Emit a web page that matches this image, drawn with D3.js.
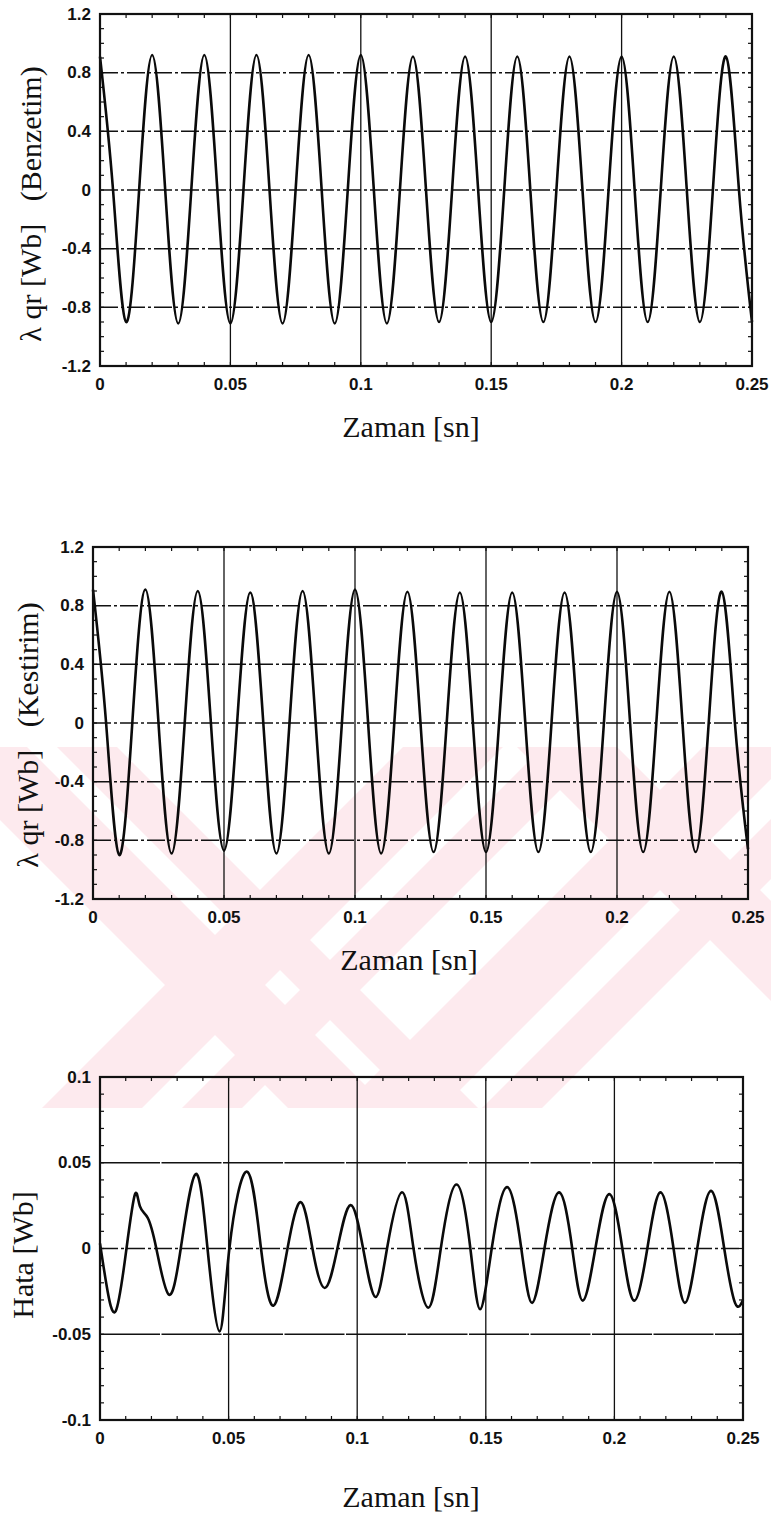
<!DOCTYPE html>
<html>
<head>
<meta charset="utf-8">
<script src="https://cdn.jsdelivr.net/npm/d3@7"></script>
<style>
  html, body { margin: 0; padding: 0; background: #fff; }
  svg { display: block; }
  .tick-label { font-family: "Liberation Sans", Arial, sans-serif; font-weight: bold; font-size: 17px; fill: #111; }
  .axis-title { font-family: "Liberation Serif", "Times New Roman", serif; font-size: 30px; fill: #111; white-space: pre; }
</style>
</head>
<body>
<svg id="fig" width="771" height="1522"></svg>
<script>
// Sample instants [s] of the rotor q-axis flux traces (peaks, zero crossings, troughs)
const fluxTimes = [
  0, 0.005, 0.01, 0.015, 0.02, 0.025, 0.03, 0.035, 0.04, 0.045,
  0.05, 0.055, 0.06, 0.065, 0.07, 0.075, 0.08, 0.085, 0.09, 0.095,
  0.1, 0.105, 0.11, 0.115, 0.12, 0.125, 0.13, 0.135, 0.14, 0.145,
  0.15, 0.155, 0.16, 0.165, 0.17, 0.175, 0.18, 0.185, 0.19, 0.195,
  0.2, 0.205, 0.21, 0.215, 0.22, 0.225, 0.23, 0.235, 0.24, 0.245, 0.25
];

// Simulated flux λqr [Wb] (Benzetim)
const benzetimFlux = [
  0.91, 0, -0.90, 0, 0.92, 0, -0.91, 0, 0.92, 0,
  -0.91, 0, 0.92, 0, -0.91, 0, 0.92, 0, -0.91, 0,
  0.92, 0, -0.91, 0, 0.91, 0, -0.90, 0, 0.91, 0,
  -0.90, 0, 0.91, 0, -0.90, 0, 0.91, 0, -0.90, 0,
  0.91, 0, -0.90, 0, 0.91, 0, -0.90, 0, 0.91, 0, -0.90
];

// Estimated flux λqr [Wb] (Kestirim)
const kestirimFlux = [
  0.91, 0, -0.90, 0, 0.91, 0, -0.89, 0, 0.90, 0,
  -0.87, 0, 0.89, 0, -0.89, 0, 0.90, 0, -0.89, 0,
  0.91, 0, -0.89, 0, 0.895, 0, -0.88, 0, 0.89, 0,
  -0.88, 0, 0.89, 0, -0.88, 0, 0.89, 0, -0.88, 0,
  0.895, 0, -0.88, 0, 0.895, 0, -0.88, 0, 0.895, 0, -0.86
];

// Estimation error [Wb]
const errorTimes = [
  0, 0.0025, 0.0061, 0.0103, 0.0136, 0.0155, 0.0185, 0.0219, 0.0267, 0.0314,
  0.0372, 0.0418, 0.0465, 0.0503, 0.0572, 0.0626, 0.0675, 0.0729, 0.0781, 0.0826,
  0.0874, 0.0923, 0.0974, 0.1023, 0.1071, 0.1116, 0.1174, 0.1219, 0.1276, 0.1325,
  0.1386, 0.144, 0.1478, 0.1523, 0.1583, 0.1638, 0.168, 0.1728, 0.1785, 0.1836,
  0.1877, 0.1926, 0.198, 0.2031, 0.2077, 0.2128, 0.2179, 0.223, 0.2274, 0.2322,
  0.2376, 0.2427, 0.2469, 0.25
];
const errorValues = [
  0.003, -0.021, -0.0365, 0, 0.0316, 0.0247, 0.018, 0, -0.0268, 0,
  0.0434, 0, -0.0483, 0, 0.0448, 0, -0.0333, 0, 0.027, 0,
  -0.023, 0, 0.0253, 0, -0.0283, 0, 0.0328, 0, -0.0345, 0,
  0.0373, 0, -0.0354, 0, 0.0358, 0, -0.0317, 0, 0.0327, 0,
  -0.0304, 0, 0.0317, 0, -0.0304, 0, 0.0327, 0, -0.0317, 0,
  0.0336, 0, -0.0317, -0.030
];

const timeTicks = [0, 0.05, 0.1, 0.15, 0.2, 0.25];
const timeTickLabels = ["0", "0.05", "0.1", "0.15", "0.2", "0.25"];
const fluxTicks = [-1.2, -0.8, -0.4, 0, 0.4, 0.8, 1.2];
const fluxTickLabels = ["-1.2", "-0.8", "-0.4", "0", "0.4", "0.8", "1.2"];
const errorTicks = [-0.1, -0.05, 0, 0.05, 0.1];
const errorTickLabels = ["-0.1", "-0.05", "0", "0.05", "0.1"];

const svg = d3.select("#fig");

// faint diagonal background emblem behind the lower two panels
const emblem = svg.append("g");
emblem.append("clipPath").attr("id", "emblem-clip")
  .append("rect").attr("x", 0).attr("y", 747).attr("width", 771).attr("height", 361);
const emblemBody = emblem.append("g").attr("clip-path", "url(#emblem-clip)").attr("fill", "#fdeaee");
// bands running down-right (x - y = c) and up-right (x + y = c)
[[-820, -720], [-690, -630], [-230, -130]].forEach(([a, b]) => {
  emblemBody.append("polygon").attr("points",
    `${700 + a},700 ${700 + b},700 ${1150 + b},1150 ${1150 + a},1150`);
});
[[1150, 1250], [1290, 1350], [1450, 1550], [1590, 1650]].forEach(([a, b]) => {
  emblemBody.append("polygon").attr("points",
    `${a - 700},700 ${b - 700},700 ${b - 1150},1150 ${a - 1150},1150`);
});

function drawPanel(opt) {
  const x = d3.scaleLinear().domain([0, 0.25]).range([opt.left, opt.right]);
  const y = d3.scaleLinear().domain(opt.yDomain).range([opt.bottom, opt.top]);
  const g = svg.append("g");

  // horizontal grid
  opt.yTicks.forEach(v => {
    if (v === opt.yDomain[0] || v === opt.yDomain[1]) return;
    const solid = opt.solidRows && opt.solidRows.includes(v);
    g.append("line")
      .attr("x1", x(0)).attr("x2", x(0.25))
      .attr("y1", y(v)).attr("y2", y(v))
      .attr("stroke", "#111").attr("stroke-width", 1.5)
      .attr("stroke-dasharray", solid ? "60,1.5" : "18,3,3,3");
  });

  // vertical grid
  timeTicks.forEach(v => {
    if (v === 0 || v === 0.25) return;
    g.append("line")
      .attr("x1", x(v)).attr("x2", x(v))
      .attr("y1", opt.top).attr("y2", opt.bottom)
      .attr("stroke", "#111").attr("stroke-width", 1.3);
  });

  // minor ticks along the frame
  x.ticks(25).forEach(v => {
    g.append("line").attr("x1", x(v)).attr("x2", x(v))
      .attr("y1", opt.bottom).attr("y2", opt.bottom - 4)
      .attr("stroke", "#111").attr("stroke-width", 1.2);
    g.append("line").attr("x1", x(v)).attr("x2", x(v))
      .attr("y1", opt.top).attr("y2", opt.top + 4)
      .attr("stroke", "#111").attr("stroke-width", 1.2);
  });
  y.ticks(opt.minorY).forEach(v => {
    g.append("line").attr("x1", opt.left).attr("x2", opt.left + 4)
      .attr("y1", y(v)).attr("y2", y(v))
      .attr("stroke", "#111").attr("stroke-width", 1.2);
    g.append("line").attr("x1", opt.right).attr("x2", opt.right - 4)
      .attr("y1", y(v)).attr("y2", y(v))
      .attr("stroke", "#111").attr("stroke-width", 1.2);
  });

  // trace
  const line = d3.line()
    .x((d, i) => x(opt.times[i]))
    .y(d => y(d))
    .curve(d3.curveNatural);
  g.append("path")
    .datum(opt.values)
    .attr("d", line)
    .attr("fill", "none")
    .attr("stroke", "#0a0a0a")
    .attr("stroke-width", 2.6)
    .attr("stroke-linejoin", "round");

  // frame
  g.append("rect")
    .attr("x", opt.left).attr("y", opt.top)
    .attr("width", opt.right - opt.left).attr("height", opt.bottom - opt.top)
    .attr("fill", "none").attr("stroke", "#111").attr("stroke-width", 2.2);

  // tick labels
  opt.yTicks.forEach((v, i) => {
    g.append("text").attr("class", "tick-label")
      .attr("x", opt.left - 9).attr("y", y(v))
      .attr("text-anchor", "end").attr("dominant-baseline", "central")
      .text(opt.yLabels[i]);
  });
  timeTicks.forEach((v, i) => {
    g.append("text").attr("class", "tick-label")
      .attr("x", x(v)).attr("y", opt.bottom + 24)
      .attr("text-anchor", "middle")
      .text(timeTickLabels[i]);
  });

  // axis titles
  g.append("text").attr("class", "axis-title")
    .attr("x", opt.titleX).attr("y", opt.titleY)
    .attr("text-anchor", "middle")
    .text("Zaman [sn]");
  g.append("text").attr("class", "axis-title")
    .attr("transform", `translate(${opt.yTitleX},${opt.yTitleY}) rotate(-90)`)
    .attr("text-anchor", "middle").attr("dominant-baseline", "central")
    .text(opt.yTitle);
}

drawPanel({
  left: 100, right: 752, top: 14, bottom: 366,
  yDomain: [-1.2, 1.2], yTicks: fluxTicks, yLabels: fluxTickLabels, minorY: 24,
  times: fluxTimes, values: benzetimFlux,
  titleX: 411, titleY: 437, yTitleX: 30, yTitleY: 204,
  yTitle: "λ qr [Wb]   (Benzetim)"
});

drawPanel({
  left: 93, right: 748, top: 547, bottom: 899,
  yDomain: [-1.2, 1.2], yTicks: fluxTicks, yLabels: fluxTickLabels, minorY: 24,
  times: fluxTimes, values: kestirimFlux,
  titleX: 409, titleY: 970, yTitleX: 27, yTitleY: 735,
  yTitle: "λ qr [Wb]   (Kestirim)"
});

drawPanel({
  left: 100, right: 743, top: 1077, bottom: 1420,
  yDomain: [-0.1, 0.1], yTicks: errorTicks, yLabels: errorTickLabels, minorY: 20,
  solidRows: [0.05, -0.05],
  times: errorTimes, values: errorValues,
  titleX: 411, titleY: 1507, yTitleX: 22, yTitleY: 1255,
  yTitle: "Hata [Wb]"
});
</script>
</body>
</html>
